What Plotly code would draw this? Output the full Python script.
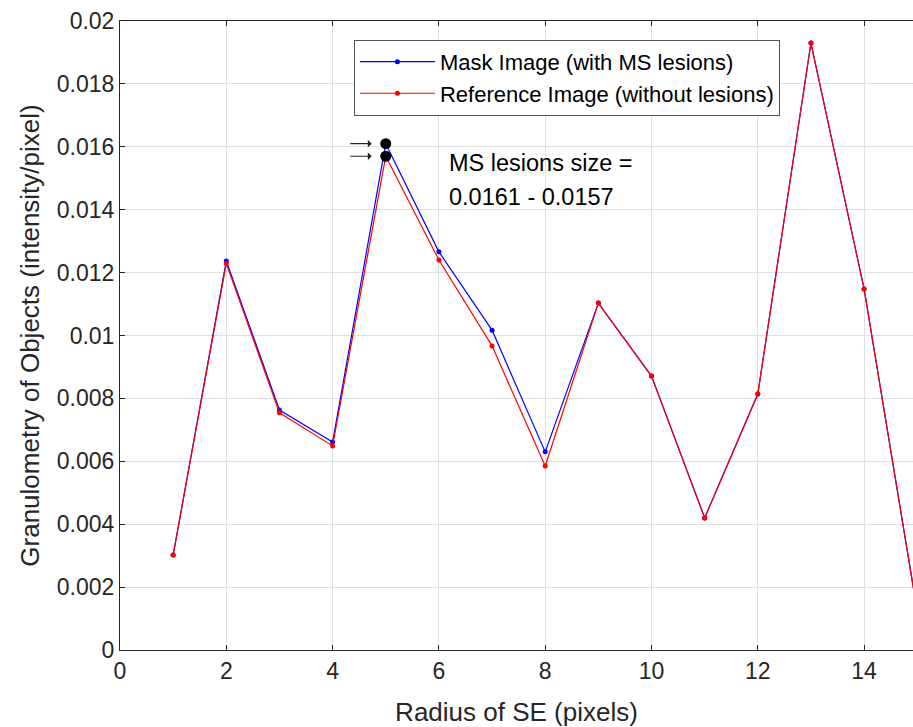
import plotly.graph_objects as go

radius = [1, 2, 3, 4, 5, 6, 7, 8, 9, 10, 11, 12, 13, 14, 15]
mask_vals = [0.00302, 0.01237, 0.00763, 0.00661, 0.0161, 0.01266, 0.01017, 0.0063,
             0.01103, 0.00871, 0.0042, 0.00814, 0.0193, 0.01148, 0.00123]
ref_vals = [0.00302, 0.01229, 0.00754, 0.00649, 0.0157, 0.0124, 0.00967, 0.00585,
            0.01103, 0.00871, 0.0042, 0.00814, 0.0193, 0.01148, 0.00123]
highlight_x = [5, 5]
highlight_y = [0.0161, 0.0157]
note_lines = ["MS lesions size =", "0.0161 - 0.0157"]
x_ticks = [0, 2, 4, 6, 8, 10, 12, 14]
y_ticks = [0, 0.002, 0.004, 0.006, 0.008, 0.01, 0.012, 0.014, 0.016, 0.018, 0.02]
y_ticktext = ["0", "0.002", "0.004", "0.006", "0.008", "0.01", "0.012", "0.014", "0.016", "0.018", "0.02"]

FONT = "Liberation Sans, Arial, sans-serif"
DARK = "#262626"

fig = go.Figure()
fig.add_trace(go.Scatter(x=radius, y=mask_vals, mode="lines+markers",
                         name="Mask Image (with MS lesions)",
                         line=dict(color="#0000ff", width=1.2),
                         marker=dict(color="#0000ff", size=5)))
fig.add_trace(go.Scatter(x=radius, y=ref_vals, mode="lines+markers",
                         name="Reference Image (without lesions)",
                         line=dict(color="#ff0000", width=1.2),
                         marker=dict(color="#ff0000", size=5)))
fig.add_trace(go.Scatter(x=highlight_x, y=highlight_y, mode="markers",
                         showlegend=False, hoverinfo="skip",
                         marker=dict(color="black", size=11)))

# arrows pointing at the two highlighted points
for yv in highlight_y:
    fig.add_annotation(x=highlight_x[0], y=yv, text="", showarrow=True,
                       ax=-37, ay=0, standoff=14, arrowhead=1, arrowsize=1.1,
                       arrowwidth=1.2, arrowcolor=DARK)

# note text (two separate lines to match spacing)
fig.add_annotation(x=6.16, y=0.01548, xanchor="left", yanchor="middle", showarrow=False,
                   text=note_lines[0],
                   font=dict(family=FONT, size=23.5, color="black"))
fig.add_annotation(x=6.16, y=0.01440, xanchor="left", yanchor="middle", showarrow=False,
                   text=note_lines[1],
                   font=dict(family=FONT, size=23.5, color="black"))

fig.update_layout(
    width=913, height=727,
    margin=dict(l=120, r=0, t=21, b=77),
    paper_bgcolor="white", plot_bgcolor="white",
    font=dict(family=FONT, size=23, color=DARK),
    showlegend=True,
    legend=dict(x=0.295, y=0.97, xanchor="left", yanchor="top",
                bgcolor="white", bordercolor="#555555", borderwidth=1,
                font=dict(family=FONT, size=22, color="black"),
                itemwidth=75, tracegroupgap=0),
    xaxis=dict(range=[0, 14.92], tickvals=x_ticks, showgrid=True,
               gridcolor="#e0e0e0", gridwidth=1, zeroline=False,
               showline=True, linecolor=DARK, linewidth=1, mirror="ticks",
               ticks="inside", ticklen=5, tickcolor=DARK,
               tickfont=dict(family=FONT, size=23, color=DARK),
               title=dict(text="Radius of SE (pixels)", standoff=20,
                          font=dict(family=FONT, size=26, color=DARK))),
    yaxis=dict(range=[0, 0.02], tickvals=y_ticks, ticktext=y_ticktext, showgrid=True,
               gridcolor="#e0e0e0", gridwidth=1, zeroline=False,
               showline=True, linecolor=DARK, linewidth=1,
               ticks="inside", ticklen=5, tickcolor=DARK,
               tickfont=dict(family=FONT, size=23, color=DARK),
               title=dict(text="Granulometry of Objects (intensity/pixel)", standoff=9,
                          font=dict(family=FONT, size=26, color=DARK))),
)

fig.write_html("out.html")
